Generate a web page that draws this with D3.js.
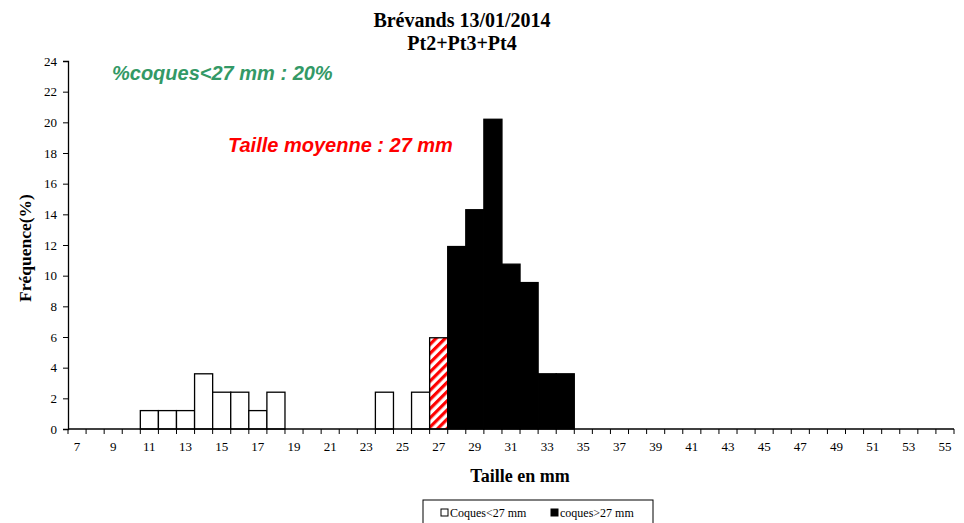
<!DOCTYPE html>
<html>
<head>
<meta charset="utf-8">
<script src="https://cdn.jsdelivr.net/npm/d3@7"></script>
<style>
  body { margin: 0; background: #fff; }
  svg text { font-family: "Liberation Serif", "Times New Roman", serif; }
</style>
</head>
<body>
<svg id="chart" width="964" height="523"></svg>
<script>
// size classes (mm), 7 .. 55
const sizes = d3.range(7, 56);
// frequencies (%)
const smallShells = { 11: 1.2, 12: 1.2, 13: 1.2, 14: 3.6, 15: 2.4, 16: 2.4, 17: 1.2, 18: 2.4, 24: 2.4, 26: 2.4 };
const meanClass = { 27: 5.95 };
const largeShells = { 28: 11.9, 29: 14.3, 30: 20.2, 31: 10.75, 32: 9.55, 33: 3.6, 34: 3.6 };
const yTicks = d3.range(0, 25, 2);
const xLabels = sizes.filter(s => s % 2 === 1);

const titleLines = ['Brévands 13/01/2014', 'Pt2+Pt3+Pt4'];
const legendItems = ['Coques<27 mm', 'coques>27 mm'];

const svg = d3.select('#chart');
const margin = { left: 68, right: 10, top: 61, bottom: 94 };
const W = 964, H = 523;

const x = d3.scaleBand().domain(sizes).range([margin.left, W - margin.right]).padding(0);
const y = d3.scaleLinear().domain([0, 24]).range([H - margin.bottom, margin.top]);

// hatch pattern for the mean class
const defs = svg.append('defs');
const pat = defs.append('pattern').attr('id', 'hatch').attr('patternUnits', 'userSpaceOnUse')
  .attr('width', 6.5).attr('height', 6.5).attr('patternTransform', 'rotate(45)');
pat.append('rect').attr('width', 6.5).attr('height', 6.5).attr('fill', '#fff');
pat.append('rect').attr('width', 3.2).attr('height', 6.5).attr('fill', '#ff0000');

// bars
const drawBars = (obj, fill, stroke) => {
  const rows = Object.entries(obj).map(([k, v]) => ({ k: +k, v }));
  svg.append('g').selectAll('rect').data(rows).join('rect')
    .attr('x', d => x(d.k)).attr('width', x.bandwidth())
    .attr('y', d => y(d.v)).attr('height', d => y(0) - y(d.v))
    .attr('fill', fill).attr('stroke', stroke).attr('stroke-width', 1.3);
};
drawBars(smallShells, '#fff', '#000');
drawBars(meanClass, 'url(#hatch)', '#000');
drawBars(largeShells, '#000', '#000');

// y axis
const yAxis = svg.append('g').attr('transform', `translate(${margin.left},0)`)
  .call(d3.axisLeft(y).tickValues(yTicks).tickSize(5).tickPadding(6));
yAxis.select('.domain').attr('stroke', '#000').attr('stroke-width', 1.3);
yAxis.selectAll('line').attr('stroke', '#000');
yAxis.selectAll('text').style('font-size', '13px').attr('fill', '#000');

// x axis: ticks at class boundaries, labels on odd classes
const xg = svg.append('g');
xg.append('line').attr('x1', x.range()[0]).attr('x2', x.range()[1])
  .attr('y1', y(0)).attr('y2', y(0)).attr('stroke', '#000').attr('stroke-width', 1.3);
const bounds = sizes.map(s => x(s)).concat([x(sizes[sizes.length - 1]) + x.bandwidth()]);
xg.selectAll('line.tk').data(bounds).join('line').attr('class', 'tk')
  .attr('x1', d => d).attr('x2', d => d).attr('y1', y(0)).attr('y2', y(0) + 5)
  .attr('stroke', '#000');
xg.selectAll('text').data(xLabels).join('text')
  .attr('x', d => x(d) + x.bandwidth() / 2).attr('y', y(0) + 22)
  .attr('text-anchor', 'middle').style('font-size', '13px').text(d => d);

// titles
svg.selectAll('text.title').data(titleLines).join('text').attr('class', 'title')
  .attr('x', 462).attr('y', (d, i) => 27 + i * 23).attr('text-anchor', 'middle')
  .style('font-size', '20px').style('font-weight', 'bold').text(d => d);

svg.append('text').attr('transform', 'translate(31,248) rotate(-90)').attr('text-anchor', 'middle')
  .style('font-size', '17.5px').style('font-weight', 'bold').text('Fréquence(%)');
svg.append('text').attr('x', 520).attr('y', 482).attr('text-anchor', 'middle')
  .style('font-size', '18px').style('font-weight', 'bold').text('Taille en mm');

// annotations
svg.append('text').attr('x', 112).attr('y', 80)
  .style('font-family', '"Liberation Sans", Arial, sans-serif').style('font-size', '20px')
  .style('font-weight', 'bold').style('font-style', 'italic').attr('fill', '#339966')
  .text('%coques<27 mm : 20%');
svg.append('text').attr('x', 228).attr('y', 152)
  .style('font-family', '"Liberation Sans", Arial, sans-serif').style('font-size', '20px')
  .style('font-weight', 'bold').style('font-style', 'italic').attr('fill', '#ff0000')
  .text('Taille moyenne : 27 mm');

// legend
const lg = svg.append('g').attr('transform', 'translate(423,500)');
lg.append('rect').attr('width', 230).attr('height', 30).attr('fill', '#fff').attr('stroke', '#000');
const lx = [18, 128];
legendItems.forEach((t, i) => {
  lg.append('rect').attr('x', lx[i]).attr('y', 9).attr('width', 7).attr('height', 7)
    .attr('fill', i === 0 ? '#fff' : '#000').attr('stroke', '#000');
  lg.append('text').attr('x', lx[i] + 9).attr('y', 17).style('font-size', '12px').text(t);
});
</script>
</body>
</html>
